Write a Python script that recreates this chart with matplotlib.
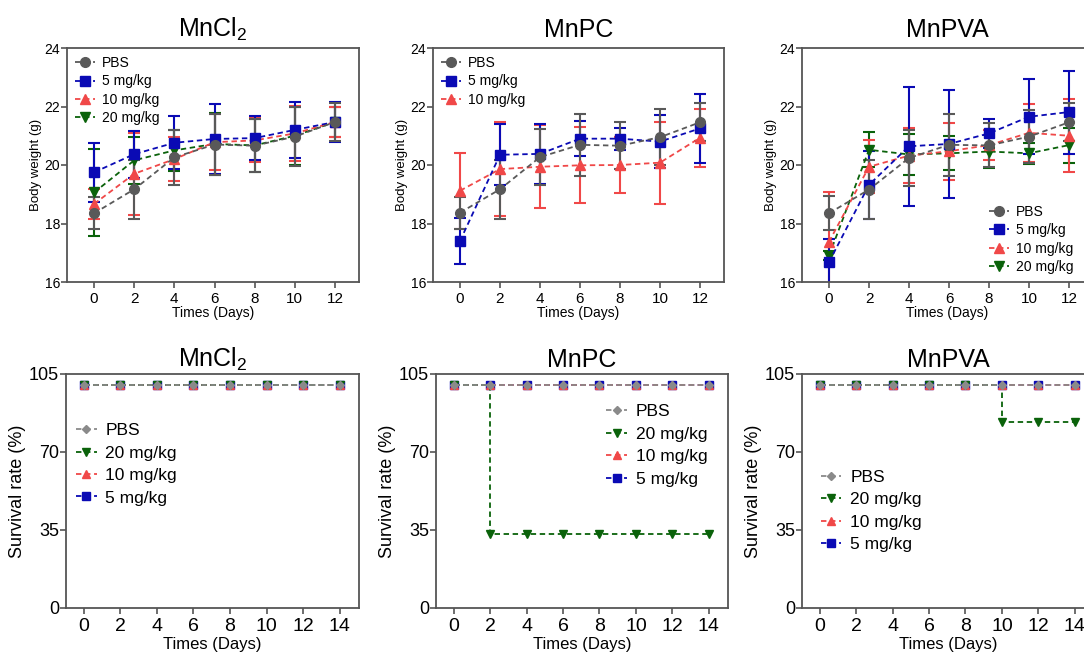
import matplotlib
matplotlib.use("Agg")
import matplotlib.pyplot as plt

plt.rcParams['font.family'] = ['Liberation Sans', 'DejaVu Sans']
plt.rcParams['mathtext.default'] = 'regular'

# body weight data (g), mean and sd
days_w = [0, 2, 4, 6, 8, 10, 12]

mncl2_pbs = [18.35, 19.17, 20.26, 20.70, 20.66, 20.97, 21.47]
mncl2_pbs_sd = [0.55, 1.0, 0.95, 1.05, 0.9, 1.0, 0.65]
mncl2_5 = [19.75, 20.37, 20.76, 20.89, 20.92, 21.20, 21.47]
mncl2_5_sd = [1.0, 0.8, 0.9, 1.2, 0.75, 0.95, 0.7]
mncl2_10 = [18.67, 19.70, 20.20, 20.78, 20.84, 21.08, 21.47]
mncl2_10_sd = [0.5, 1.4, 0.75, 0.95, 0.75, 0.95, 0.5]
mncl2_20 = [19.06, 20.16, 20.50, 20.72, 20.67, 21.00, 21.47]
mncl2_20_sd = [1.5, 0.8, 0.7, 1.05, 0.9, 1.0, 0.5]

mnpc_pbs = [18.37, 19.17, 20.27, 20.69, 20.66, 20.95, 21.46]
mnpc_pbs_sd = [0.55, 1.0, 0.95, 1.05, 0.8, 0.95, 0.65]
mnpc_5 = [17.40, 20.35, 20.38, 20.90, 20.90, 20.80, 21.25]
mnpc_5_sd = [0.78, 1.05, 1.03, 0.6, 0.38, 0.9, 1.17]
mnpc_10 = [19.12, 19.86, 19.94, 19.99, 20.00, 20.08, 20.93]
mnpc_10_sd = [1.3, 1.6, 1.42, 1.3, 0.95, 1.4, 1.0]

mnpva_pbs = [18.35, 19.16, 20.24, 20.69, 20.67, 20.97, 21.46]
mnpva_pbs_sd = [0.58, 1.0, 0.95, 1.05, 0.75, 0.9, 0.65]
mnpva_5 = [16.68, 19.32, 20.64, 20.72, 21.08, 21.65, 21.81]
mnpva_5_sd = [0.8, 1.15, 2.03, 1.86, 0.5, 1.28, 1.42]
mnpva_10 = [17.37, 19.94, 20.32, 20.47, 20.68, 21.10, 21.00]
mnpva_10_sd = [1.7, 0.9, 0.95, 0.97, 0.5, 1.0, 1.25]
mnpva_20 = [16.90, 20.52, 20.36, 20.40, 20.46, 20.40, 20.68]
mnpva_20_sd = [0.15, 0.6, 0.7, 0.58, 0.55, 0.35, 0.6]

# survival data (%)
days_s = [0, 2, 4, 6, 8, 10, 12, 14]
surv_full = [100, 100, 100, 100, 100, 100, 100, 100]
mnpc_20_surv = [100, 33.3, 33.3, 33.3, 33.3, 33.3, 33.3, 33.3]
mnpva_20_surv = [100, 100, 100, 100, 100, 83.3, 83.3, 83.3]

GRAY = '#595959'
LGRAY = '#8a8a8a'
BLUE = '#0a0ab4'
RED = '#f04848'
GREEN = '#0a620a'
SPINE = '#555555'

W, H = 1084, 655
fig = plt.figure(figsize=(W / 100, H / 100), dpi=100)


def px_axes(x0, y0, x1, y1):
    return fig.add_axes([x0 / W, 1 - y1 / H, (x1 - x0) / W, (y1 - y0) / H])


def style(ax, fs_tick_x, fs_tick_y):
    for s in ax.spines.values():
        s.set_color(SPINE)
        s.set_linewidth(1.3)
    ax.tick_params(direction='out', length=4, width=1.2, color=SPINE)
    ax.tick_params(axis='x', labelsize=fs_tick_x, pad=3)
    ax.tick_params(axis='y', labelsize=fs_tick_y, pad=1)


def weight_panel(ax, title, series, legend_loc, legend_anchor):
    handles = {}
    for y, sd, col, mk, lab in series:
        c = ax.errorbar(days_w, y, yerr=sd, color=col, marker=mk, ms=7,
                        ls=(0, (3, 2)), lw=1.3, elinewidth=1.5, capsize=4.5,
                        capthick=1.5)
        handles[lab] = c.lines[0]
    ax.set_xlim(-1.35, 13.2)
    ax.set_ylim(16, 24)
    ax.set_xticks(days_w)
    ax.set_yticks([16, 18, 20, 22, 24])
    ax.set_xlabel('Times (Days)', fontsize=10, labelpad=0)
    ax.set_ylabel('Body weight (g)', fontsize=9.5, labelpad=2)
    ax.set_title(title, fontsize=18, pad=8)
    style(ax, 11, 10)
    labels = [l for l in ['PBS', '5 mg/kg', '10 mg/kg', '20 mg/kg'] if l in handles]
    ax.legend([handles[l] for l in labels], labels, loc=legend_loc,
              bbox_to_anchor=legend_anchor, frameon=False, fontsize=10,
              handlelength=1.4, handletextpad=0.5, labelspacing=0.3,
              borderaxespad=0.2)


def survival_panel(ax, title, green_vals, legend_anchor):
    ax.step(days_s, surv_full, where='post', color=BLUE, ls=(0, (3, 2)),
            lw=1.3, marker='s', ms=6, label='5 mg/kg')
    ax.step(days_s, surv_full, where='post', color=RED, ls=(0, (3, 2)),
            lw=1.3, marker='^', ms=6, label='10 mg/kg')
    ax.step(days_s, green_vals, where='post', color=GREEN, ls=(0, (3, 2)),
            lw=1.3, marker='v', ms=6, label='20 mg/kg')
    ax.step(days_s, surv_full, where='post', color=LGRAY, ls=(0, (3, 2)),
            lw=1.3, marker='D', ms=4.5, label='PBS')
    ax.set_xlim(-0.97, 15.05)
    ax.set_ylim(0, 105)
    ax.set_xticks(days_s)
    ax.set_yticks([0, 35, 70, 105])
    ax.set_xlabel('Times (Days)', fontsize=12, labelpad=2)
    ax.set_ylabel('Survival rate (%)', fontsize=13, labelpad=2)
    ax.set_title(title, fontsize=18, pad=5)
    style(ax, 14, 13)
    h, l = ax.get_legend_handles_labels()
    ax.legend(h[::-1], l[::-1], loc='upper left', bbox_to_anchor=legend_anchor,
              frameon=False, fontsize=12.5, handlelength=1.2,
              handletextpad=0.5, labelspacing=0.42, borderaxespad=0)


# top row: body weight
ax1 = px_axes(67, 48, 359, 282)
weight_panel(ax1, r'MnCl$_2$', [
    (mncl2_20, mncl2_20_sd, GREEN, 'v', '20 mg/kg'),
    (mncl2_10, mncl2_10_sd, RED, '^', '10 mg/kg'),
    (mncl2_5, mncl2_5_sd, BLUE, 's', '5 mg/kg'),
    (mncl2_pbs, mncl2_pbs_sd, GRAY, 'o', 'PBS'),
], 'upper left', (0.0, 1.0))

ax2 = px_axes(433, 48, 724, 282)
weight_panel(ax2, 'MnPC', [
    (mnpc_10, mnpc_10_sd, RED, '^', '10 mg/kg'),
    (mnpc_5, mnpc_5_sd, BLUE, 's', '5 mg/kg'),
    (mnpc_pbs, mnpc_pbs_sd, GRAY, 'o', 'PBS'),
], 'upper left', (0.0, 1.0))

ax3 = px_axes(802, 48, 1093, 282)
weight_panel(ax3, 'MnPVA', [
    (mnpva_20, mnpva_20_sd, GREEN, 'v', '20 mg/kg'),
    (mnpva_10, mnpva_10_sd, RED, '^', '10 mg/kg'),
    (mnpva_5, mnpva_5_sd, BLUE, 's', '5 mg/kg'),
    (mnpva_pbs, mnpva_pbs_sd, GRAY, 'o', 'PBS'),
], 'lower right', (0.96, 0.0))

# bottom row: survival
ax4 = px_axes(66, 374, 359, 608)
survival_panel(ax4, r'MnCl$_2$', surv_full, (0.01, 0.82))

ax5 = px_axes(436, 374, 728, 608)
survival_panel(ax5, 'MnPC', mnpc_20_surv, (0.56, 0.90))

ax6 = px_axes(802, 374, 1094, 608)
survival_panel(ax6, 'MnPVA', mnpva_20_surv, (0.04, 0.62))

fig.savefig('out.png', dpi=100)
